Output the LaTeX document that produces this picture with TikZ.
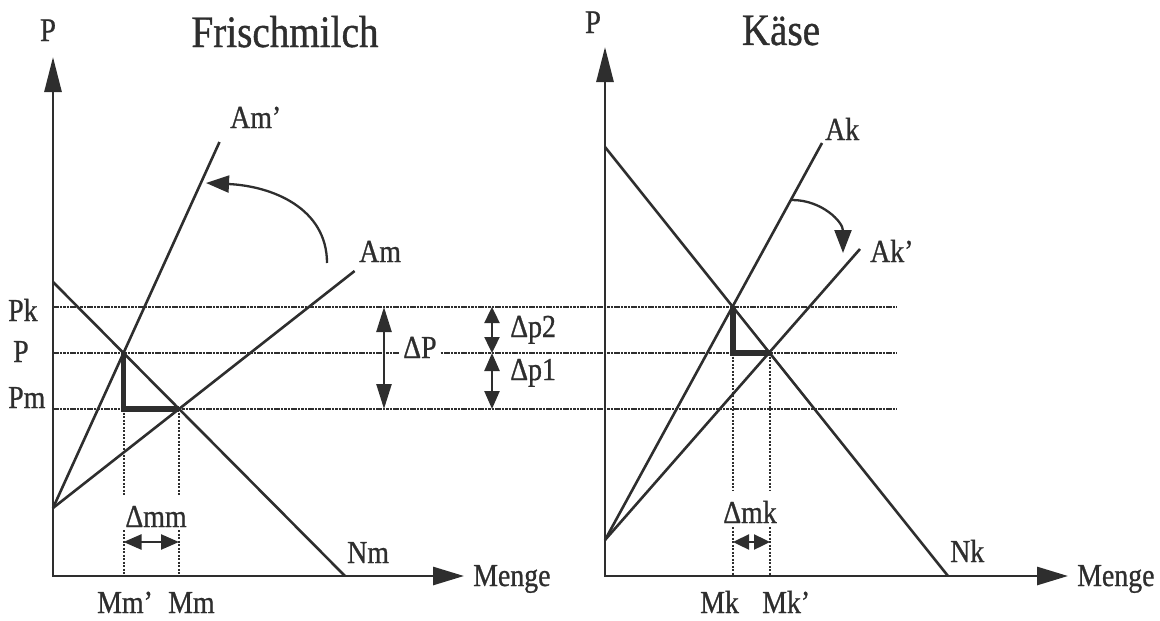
\documentclass[tikz,border=0pt]{standalone}
\usepackage{fontspec}
\setmainfont{Liberation Serif}[FakeStretch=0.87, FakeBold=0.8]
\usepackage{xcolor}
\usetikzlibrary{arrows.meta, calc}

\definecolor{ink}{HTML}{2E2E2E}

\tikzset{
  achse/.style={line width=2.8pt, {Triangle[length=35pt,width=17pt]}-{Triangle[length=31pt,width=18pt]}},
  kurve/.style={line width=2.6pt},
  guide/.style={line width=2.2pt, dash pattern=on 2.6pt off 0.8pt},
  vguide/.style={line width=2pt, dash pattern=on 2pt off 1.5pt},
  thickL/.style={line width=5.5pt, line join=miter},
  swing/.style={line width=2.3pt, -{Triangle[length=23pt,width=17pt]}},
  delta/.style={line width=2.4pt, {Triangle[length=#1,width=15pt]}-{Triangle[length=#1,width=15pt]}},
  delta/.default=24pt,
  lbl/.style={font=\fontsize{32}{34}\selectfont, inner sep=0pt, anchor=base west},
  plbl/.style={font=\fontsize{33}{35}\selectfont, inner sep=0pt, anchor=base},
  ttl/.style={font=\fontsize{45}{47}\selectfont, inner sep=0pt, anchor=base},
}

\begin{document}
\begin{tikzpicture}[x=1pt, y=-1pt, color=ink]
  \useasboundingbox (0,0) rectangle (1160,621);

  % Frischmilch: axes, Nachfrage, Angebot
  \coordinate (Om) at (53,576);
  \coordinate (Ym) at (53,57);
  \coordinate (Xm) at (464,576);
  \coordinate (nm0) at (53,282);
  \coordinate (nm1) at (345,576);
  \coordinate (sm) at (53,508);
  \coordinate (ams) at (219.5,142);
  \coordinate (am) at (354.6,271);
  \coordinate (Em) at (123.5,353);
  \coordinate (Fm) at (179,409);

  % Kaese: axes, Nachfrage, Angebot
  \coordinate (Ok) at (605,576);
  \coordinate (Yk) at (605,47);
  \coordinate (Xk) at (1068,576);
  \coordinate (nk0) at (605,147);
  \coordinate (nk1) at (948,576);
  \coordinate (sk) at (605,540);
  \coordinate (ak) at (822,143);
  \coordinate (aks) at (860,249);
  \coordinate (Ek) at (733,307);
  \coordinate (Fk) at (770,353);

  % price levels
  \coordinate (pk0) at (53,307);  \coordinate (pk1) at (897,307);
  \coordinate (p0)  at (53,353);  \coordinate (p1)  at (897,353);
  \coordinate (pm0) at (53,409);  \coordinate (pm1) at (897,409);

  \draw[guide] (pk0) -- (pk1);
  \draw[guide] (p0) -- (p1);
  \draw[guide] (pm0) -- (pm1);

  \draw[achse] (Ym) -- (Om) -- (Xm);
  \draw[achse] (Yk) -- (Ok) -- (Xk);

  \draw[kurve] (nm0) -- (nm1);
  \draw[kurve] (sm) -- (ams);
  \draw[kurve] (sm) -- (am);
  \draw[kurve] (nk0) -- (nk1);
  \draw[kurve] (sk) -- (ak);
  \draw[kurve] (sk) -- (aks);

  \draw[thickL] (Em) -- (Em |- Fm) -- (Fm);
  \draw[thickL] (Ek) -- (Ek |- Fk) -- (Fk);

  % shift arrows
  \coordinate (cm0) at (327,263);
  \coordinate (cm1) at (206,183);
  \draw[swing] (cm0) .. controls (327,208) and (272,186) .. (cm1);
  \coordinate (ck0) at (792,200);
  \coordinate (ck1) at (843,253);
  \draw[swing] (ck0) .. controls (822,200) and (843,222) .. (ck1);

  % labels
  \node[plbl] (pl) at (48,41) {P};
  \node[plbl] (pr) at (593,33) {P};
  \node[ttl] (tm) at (285,47) {Frischmilch};
  \node[ttl] (tk) at (781,45) {Käse};
  \node[lbl] (lams) at (230,128) {Am’};
  \node[lbl] (lam) at (359,262) {Am};
  \node[lbl] (lak) at (825,140) {Ak};
  \node[lbl] (laks) at (870,262) {Ak’};
  \node[lbl] (lpk) at (8,321) {Pk};
  \node[lbl] (lp) at (13,362) {P};
  \node[lbl] (lpm) at (8,408) {Pm};
  \node[lbl] (lnm) at (347,563) {Nm};
  \node[lbl] (lnk) at (950,562) {Nk};
  \node[lbl] (lxm) at (473,586) {Menge};
  \node[lbl] (lxk) at (1077,586) {Menge};
  \node[lbl] (lmms) at (97,613) {Mm’};
  \node[lbl] (lmm) at (168,613) {Mm};
  \node[lbl] (lmk) at (700,613) {Mk};
  \node[lbl] (lmks) at (762,613) {Mk’};

  % quantity differences
  \node[lbl, anchor=base] (dmm) at (156,527) {Δmm};
  \node[lbl, anchor=base] (dmk) at (750,523) {Δmk};
  \draw[vguide] (Em |- Fm) -- ($(Em |- dmm.north)+(0,-10)$);
  \draw[vguide] ($(Em |- dmm.south)+(0,3)$) -- (Em |- Om);
  \draw[vguide] (Fm) -- ($(Fm |- dmm.north)+(0,-10)$);
  \draw[vguide] ($(Fm |- dmm.south)+(0,3)$) -- (Fm |- Om);
  \draw[vguide] (Ek |- Fk) -- ($(Ek |- dmk.north)+(0,-10)$);
  \draw[vguide] ($(Ek |- dmk.south)+(0,4)$) -- (Ek |- Ok);
  \draw[vguide] (Fk) -- ($(Fk |- dmk.north)+(0,-10)$);
  \draw[vguide] ($(Fk |- dmk.south)+(0,4)$) -- (Fk |- Ok);
  \draw[delta=18pt] (Em |- 0,542) -- (Fm |- 0,542);
  \draw[delta=16pt] (Ek |- 0,542) -- (Fk |- 0,542);

  % price differences
  \coordinate (dP0) at (384,307);
  \coordinate (dP1) at (384,409);
  \draw[delta=25pt] (dP0) -- (dP1);
  \node[lbl, fill=white, inner xsep=3pt] (ldP) at (400,358) {ΔP};
  \coordinate (dp0) at (492,307);
  \coordinate (dp1) at (492,353);
  \coordinate (dp2) at (492,409);
  \draw[delta=16pt] (dp0) -- (dp1);
  \draw[delta=18pt] (dp1) -- (dp2);
  \node[lbl] (ldp2) at (510,337) {Δp2};
  \node[lbl] (ldp1) at (510,380) {Δp1};
\end{tikzpicture}
\end{document}
